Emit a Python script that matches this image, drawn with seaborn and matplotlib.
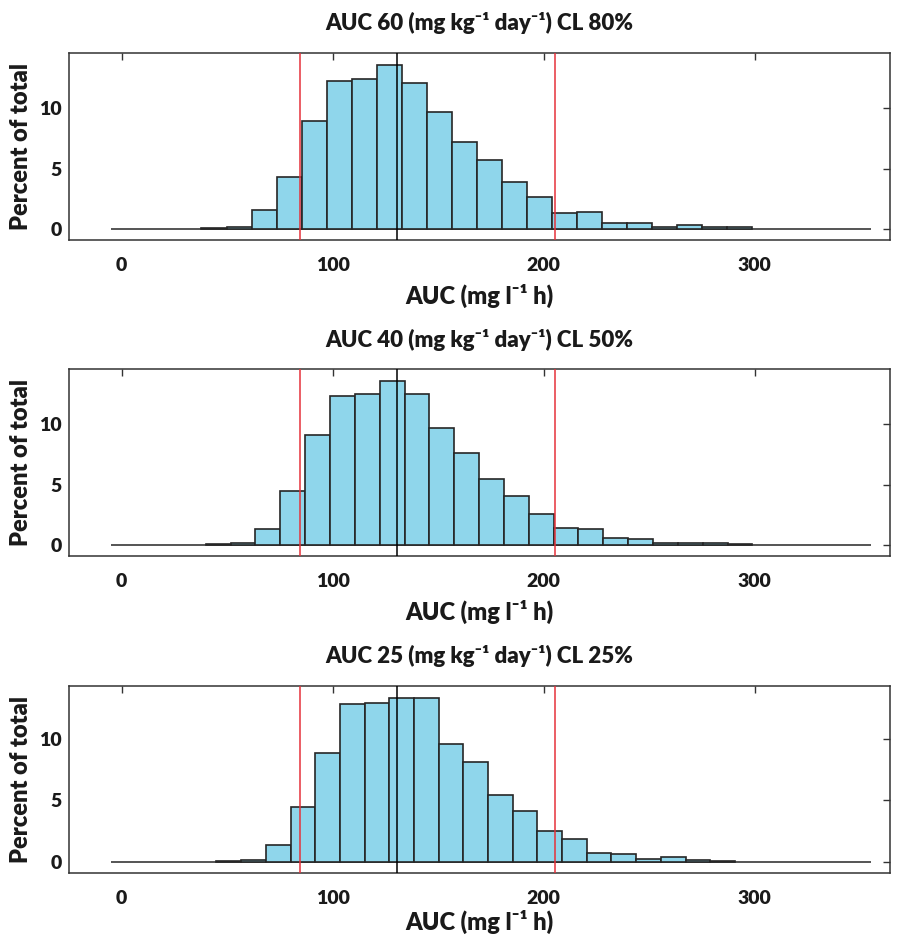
"""
AUC distributions for three dosing / clearance scenarios
Histograms with reference lines (target window in red, median in black)
"""

import numpy as np
import pandas as pd
import matplotlib
matplotlib.use('Agg')
import matplotlib.pyplot as plt
import seaborn as sns

# Panel titles
titles = [
    'AUC 60 (mg kg⁻¹ day⁻¹) CL 80%',
    'AUC 40 (mg kg⁻¹ day⁻¹) CL 50%',
    'AUC 25 (mg kg⁻¹ day⁻¹) CL 25%',
]

# Bin range (mg l-1 h) of each histogram
range_p1 = (37.8, 298.7)
range_p2 = (39.8, 298.9)
range_p3 = (44.9, 290.6)

# Percent of total per bin
pct_p1 = [0.08, 0.17, 1.55, 4.34, 8.98, 12.29, 12.43, 13.59, 12.13, 9.72, 7.18,
          5.69, 3.92, 2.65, 1.33, 1.44, 0.55, 0.47, 0.19, 0.33, 0.14, 0.19]
pct_p2 = [0.11, 0.17, 1.33, 4.48, 9.14, 12.32, 12.49, 13.56, 12.49, 9.70, 7.65,
          5.50, 4.06, 2.62, 1.38, 1.30, 0.58, 0.47, 0.14, 0.22, 0.14, 0.08]
pct_p3 = [0.08, 0.16, 1.36, 4.42, 8.83, 12.79, 12.90, 13.33, 13.33, 9.54, 8.10,
          5.39, 4.12, 2.49, 1.84, 0.73, 0.62, 0.22, 0.38, 0.14, 0.11]

ranges = [range_p1, range_p2, range_p3]
pcts = [pct_p1, pct_p2, pct_p3]
ylims = [(-0.9, 14.6), (-0.9, 14.6), (-0.9, 14.3)]

# Reference lines
target_lo, target_hi = 84.4, 205.5
median_auc = 130.5

x_ticks = [0, 100, 200, 300]
y_ticks = [0, 5, 10]
baseline_span = (-5, 355)

BAR_COLOR = '#8fd6eb'
EDGE_COLOR = '#262626'
RED = '#e5323a'
TEXT = '#1a1a1a'

sns.set_style('white')
plt.rcParams['font.family'] = ['Lato', 'DejaVu Sans']
plt.rcParams['font.weight'] = 'heavy'

fig = plt.figure(figsize=(9.05, 9.38), dpi=100)
bottoms = [0.7441, 0.4072, 0.0693]
xlabel_pads = [7, 7, 2]

for i in range(3):
    ax = fig.add_axes([0.0762, bottoms[i], 0.907, 0.1997])
    lo, hi = ranges[i]
    n_bins = len(pcts[i])
    edges = np.linspace(lo, hi, n_bins + 1)
    centers = (edges[:-1] + edges[1:]) / 2
    df = pd.DataFrame({'auc': centers, 'pct': pcts[i]})

    ax.hlines(0, *baseline_span, color=EDGE_COLOR, lw=1.1, zorder=1)
    sns.histplot(data=df, x='auc', weights='pct', bins=n_bins, binrange=(lo, hi),
                 stat='count', color=BAR_COLOR, edgecolor=EDGE_COLOR,
                 linewidth=1.2, alpha=1, ax=ax, zorder=2)

    ax.axvline(target_lo, color=RED, lw=1.1, zorder=3)
    ax.axvline(target_hi, color=RED, lw=1.1, zorder=3)
    ax.axvline(median_auc, color='black', lw=1.1, zorder=3)

    ax.set_xlim(-25, 364)
    ax.set_ylim(*ylims[i])
    ax.set_xticks(x_ticks)
    ax.set_yticks(y_ticks)
    ax.tick_params(direction='in', length=5, width=1, top=True, right=True,
                   labelsize=14, colors='#333333', labelcolor=TEXT)
    ax.tick_params(axis='x', pad=12)
    ax.tick_params(axis='y', pad=5)
    for lab in ax.get_xticklabels() + ax.get_yticklabels():
        lab.set_fontweight('heavy')
    for sp in ax.spines.values():
        sp.set_color('#333333')
        sp.set_linewidth(1.1)

    ax.set_title(titles[i], fontsize=16, fontweight='heavy', pad=16,
                 color=TEXT)
    ax.set_xlabel('AUC (mg l⁻¹ h)', fontsize=17, fontweight='heavy',
                  labelpad=xlabel_pads[i], color=TEXT)
    ax.set_ylabel('Percent of total', fontsize=17, fontweight='heavy',
                  labelpad=5, color=TEXT)

fig.savefig('out.png', dpi=100)
